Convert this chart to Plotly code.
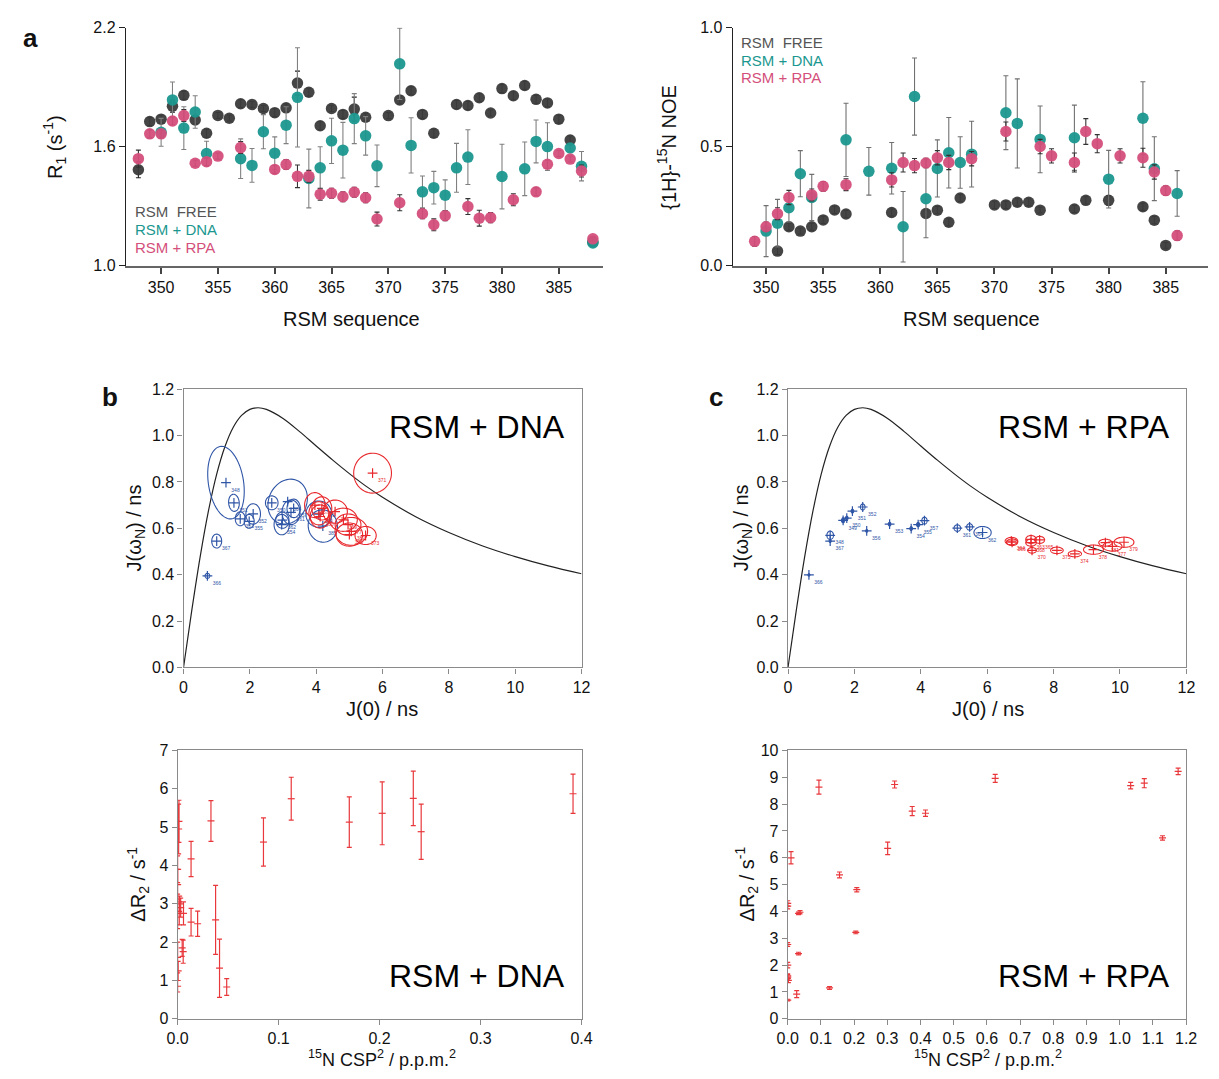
import numpy as np
import plotly.graph_objects as go

W, H = 1219, 1079

# ---------------- Panel a (left): R1 ----------------
free_res = [348,349,350,351,352,353,354,355,356,357,358,359,360,361,362,363,364,365,366,367,368,
            370,371,372,373,374,376,377,378,379,380,381,382,383,384,385,386,388]
free_r1 = [1.484,1.727,1.739,1.804,1.859,1.735,1.668,1.758,1.744,1.817,1.813,1.793,1.772,1.796,1.921,1.875,
           1.706,1.793,1.763,1.790,1.749,1.757,1.836,1.882,1.763,1.668,1.813,1.808,1.847,1.770,1.893,1.857,
           1.909,1.839,1.821,1.739,1.634,1.120]
free_r1_err = [0.04,0.02,0.02,0.03,0.02,0.02,0.02,0.015,0.015,0.02,0.015,0.015,0.02,0.02,0.06,0.02,0.02,0.015,
               0.02,0.06,0.02,0.015,0.02,0.02,0.02,0.02,0.02,0.02,0.02,0.015,0.02,0.02,0.02,0.02,0.02,0.02,0.02,0.01]

dna_res = [350,351,352,353,354,357,358,359,360,361,362,363,364,365,366,367,368,369,371,372,373,374,375,376,
           377,380,382,383,384,386,387,388]
dna_r1 = [1.673,1.836,1.694,1.775,1.566,1.540,1.506,1.676,1.568,1.709,1.849,1.440,1.494,1.630,1.583,1.742,
          1.655,1.504,2.018,1.607,1.373,1.394,1.356,1.494,1.548,1.450,1.489,1.627,1.601,1.594,1.502,1.115]
dna_r1_err = [0.07,0.09,0.108,0.082,0.062,0.10,0.085,0.086,0.082,0.093,0.25,0.148,0.106,0.114,0.14,0.126,
              0.097,0.105,0.18,0.139,0.08,0.082,0.077,0.123,0.138,0.163,0.135,0.108,0.12,0.02,0.074,0.01]

rpa_res = [348,349,350,351,352,353,354,355,357,360,361,362,363,364,365,366,367,368,369,371,373,374,375,377,
           378,379,381,383,384,385,386,387,388]
rpa_r1 = [1.540,1.665,1.665,1.730,1.757,1.517,1.525,1.553,1.596,1.486,1.511,1.451,1.451,1.361,1.366,1.348,
          1.371,1.343,1.236,1.318,1.263,1.207,1.253,1.299,1.240,1.243,1.333,1.373,1.512,1.566,1.538,1.478,1.136]
rpa_r1_err = [0.043,0.02,0.02,0.02,0.03,0.015,0.02,0.015,0.03,0.02,0.025,0.057,0.03,0.03,0.025,0.025,0.025,
              0.025,0.035,0.04,0.025,0.03,0.025,0.04,0.04,0.025,0.03,0.02,0.02,0.015,0.015,0.03,0.01]

# ---------------- Panel a (right): NOE ----------------
noe_free_res = [351,352,353,354,355,356,357,361,364,365,366,367,370,371,372,373,374,377,378,380,383,384,385]
noe_free = [0.062,0.164,0.146,0.164,0.193,0.235,0.218,0.224,0.220,0.234,0.183,0.285,0.256,0.256,0.267,0.267,
            0.234,0.239,0.275,0.275,0.248,0.192,0.086]
noe_free_err = [0.015,0.015,0.012,0.015,0.015,0.015,0.015,0.015,0.015,0.015,0.015,0.015,0.015,0.015,0.015,0.015,
                0.012,0.015,0.015,0.02,0.015,0.015,0.012]

noe_dna_res = [350,351,352,353,354,357,359,361,362,363,364,365,366,367,368,371,372,374,377,380,383,384,386]
noe_dna = [0.146,0.179,0.244,0.387,0.287,0.529,0.397,0.410,0.164,0.711,0.282,0.409,0.475,0.434,0.469,0.643,
           0.598,0.531,0.538,0.364,0.620,0.408,0.304]
noe_dna_err = [0.107,0.10,0.06,0.097,0.097,0.154,0.10,0.108,0.148,0.162,0.164,0.12,0.148,0.108,0.138,0.155,
               0.187,0.14,0.137,0.121,0.153,0.134,0.096]

noe_rpa_res = [349,350,351,352,354,355,357,361,362,363,364,365,366,368,371,374,375,377,378,379,381,383,384,385,386]
noe_rpa = [0.103,0.164,0.219,0.287,0.298,0.334,0.341,0.361,0.434,0.421,0.432,0.454,0.434,0.450,0.564,0.501,
           0.462,0.434,0.564,0.513,0.462,0.454,0.394,0.316,0.127]
noe_rpa_err = [0.02,0.02,0.025,0.03,0.025,0.02,0.025,0.03,0.04,0.03,0.02,0.03,0.03,0.03,0.04,0.03,0.03,0.04,
               0.054,0.038,0.03,0.04,0.03,0.02,0.02]

# ---------------- Panels b / c: spectral density ----------------
curve_j0 = [0, 0.25, 0.5, 0.75, 1.0, 1.25, 1.5, 1.75, 2.0, 2.25, 2.5, 3.0, 3.5, 4.0, 4.5, 5.0, 5.5, 6, 7, 8, 9, 10, 11, 12]
curve_jw = [0, 0.247, 0.476, 0.674, 0.834, 0.953, 1.036, 1.087, 1.113, 1.120, 1.113, 1.074, 1.017, 0.955, 0.894,
            0.836, 0.782, 0.734, 0.650, 0.582, 0.525, 0.478, 0.438, 0.404]

b_blue_j0 = [1.28, 1.52, 1.00, 0.72, 1.71, 1.98, 2.10, 2.66, 2.96, 2.98, 3.14, 3.24, 3.32, 4.08, 4.20]
b_blue_jw = [0.797, 0.710, 0.545, 0.395, 0.641, 0.630, 0.662, 0.710, 0.616, 0.635, 0.715, 0.669, 0.686, 0.661, 0.610]
b_blue_sx = [0.53, 0.16, 0.15, 0.07, 0.15, 0.15, 0.22, 0.19, 0.23, 0.20, 0.57, 0.27, 0.20, 0.39, 0.44]
b_blue_sy = [0.158, 0.037, 0.030, 0.011, 0.030, 0.030, 0.044, 0.030, 0.044, 0.035, 0.100, 0.053, 0.040, 0.057, 0.070]
b_blue_ang = [9, 5, 0, 0, 0, 0, 0, 0, 0, 0, -25, 0, 0, 0, 10]
b_blue_lab = ["348", "351", "367", "366", "353", "355", "352", "350", "354", "362", "364", "361", "357", "384", "385"]

b_red_j0 = [5.70, 3.96, 4.08, 4.17, 4.12, 4.57, 4.82, 4.96, 5.06, 5.00, 5.49]
b_red_jw = [0.838, 0.700, 0.665, 0.686, 0.651, 0.672, 0.637, 0.616, 0.587, 0.573, 0.569]
b_red_sx = [0.57, 0.31, 0.30, 0.30, 0.30, 0.37, 0.42, 0.39, 0.49, 0.40, 0.32]
b_red_sy = [0.086, 0.054, 0.050, 0.050, 0.050, 0.050, 0.050, 0.046, 0.060, 0.050, 0.039]
b_red_ang = [0, 0, 0, 0, 0, 0, 0, 0, 0, 0, 0]
b_red_lab = ["371", "367", "386", "372", "380", "383", "369", "377", "382", "376", "373"]

c_blue_j0 = [0.63, 1.27, 1.27, 1.66, 1.77, 1.94, 2.25, 2.37, 3.06, 3.71, 3.92, 4.11, 5.10, 5.47, 5.86]
c_blue_jw = [0.399, 0.570, 0.545, 0.634, 0.644, 0.674, 0.692, 0.589, 0.618, 0.599, 0.616, 0.633, 0.601, 0.606, 0.582]
c_blue_sx = [0.03, 0.10, 0.03, 0.05, 0.04, 0.04, 0.07, 0.03, 0.04, 0.04, 0.05, 0.08, 0.10, 0.09, 0.26]
c_blue_sy = [0.005, 0.018, 0.006, 0.010, 0.008, 0.008, 0.013, 0.006, 0.008, 0.008, 0.009, 0.015, 0.014, 0.014, 0.026]
c_blue_ang = [0] * 15
c_blue_lab = ["366", "348", "367", "349", "350", "351", "352", "356", "353", "354", "355", "357", "361", "364", "362"]

c_red_j0 = [6.73, 6.75, 7.32, 7.32, 7.58, 7.35, 8.10, 8.64, 9.20, 9.56, 9.77, 10.12]
c_red_jw = [0.545, 0.540, 0.552, 0.538, 0.550, 0.505, 0.505, 0.490, 0.508, 0.538, 0.522, 0.540]
c_red_sx = [0.19, 0.17, 0.16, 0.16, 0.15, 0.13, 0.19, 0.20, 0.30, 0.20, 0.29, 0.30]
c_red_sy = [0.016, 0.014, 0.017, 0.015, 0.015, 0.012, 0.014, 0.013, 0.020, 0.015, 0.020, 0.022]
c_red_ang = [0] * 12
c_red_lab = ["364", "366", "363", "368", "365", "370", "375", "374", "378", "381", "377", "379"]

# ---------------- Bottom panels: dR2 vs CSP^2 ----------------
dna_csp = [0.0, 0.0, 0.0005, 0.0, 0.0, 0.0, 0.0010, 0.0013, 0.0016, 0.0020, 0.0030, 0.0045, 0.0055, 0.0058,
           0.0133, 0.0133, 0.0198, 0.033, 0.0376, 0.0415, 0.0486, 0.085, 0.1125, 0.170, 0.2026, 0.2334, 0.2412, 0.3916]
dna_dr2 = [0.85, 1.6, 1.25, 2.8, 3.5, 3.9, 4.95, 5.15, 2.75, 3.0, 2.9, 1.85, 1.75, 2.75,
           4.17, 2.52, 2.48, 5.16, 2.58, 1.32, 0.83, 4.61, 5.74, 5.13, 5.36, 5.75, 4.88, 5.87]
dna_dr2_err = [0.15, 0.4, 0.25, 0.45, 0.4, 0.35, 0.65, 0.55, 0.3, 0.2, 0.25, 0.22, 0.3, 0.3,
               0.46, 0.36, 0.33, 0.53, 0.90, 0.76, 0.22, 0.63, 0.56, 0.66, 0.82, 0.71, 0.72, 0.51]

rpa_csp = [0.094, 0.0099, 0.0, 0.0, 0.0, 0.0, 0.0, 0.002, 0.0, 0.0, 0.027, 0.0325, 0.037, 0.0325, 0.126, 0.156,
           0.208, 0.205, 0.301, 0.322, 0.375, 0.415, 0.625, 1.033, 1.074, 1.129, 1.176]
rpa_dr2 = [8.63, 6.0, 4.3, 4.2, 2.77, 2.0, 1.55, 1.43, 1.6, 0.70, 0.92, 3.93, 3.97, 2.43, 1.15, 5.36,
           4.81, 3.22, 6.35, 8.73, 7.74, 7.66, 8.96, 8.69, 8.78, 6.74, 9.22]
rpa_dr2_err = [0.26, 0.23, 0.1, 0.1, 0.07, 0.1, 0.1, 0.08, 0.08, 0.03, 0.13, 0.05, 0.06, 0.05, 0.05, 0.11,
               0.08, 0.05, 0.23, 0.13, 0.17, 0.12, 0.15, 0.12, 0.17, 0.08, 0.12]

# ---------------- styling ----------------
FONT = "Liberation Sans, Arial, Helvetica, sans-serif"
C_FREE = "#3b3b3b"
C_DNA = "#1b978f"
C_RPA = "#d44f7b"
C_BLUE = "#2f55a6"
C_RED = "#e8282c"
C_ERR = "#e8383c"

# axis boxes in pixels (left, right, top, bottom)
BOX_A1 = (117, 603, 20, 262)
BOX_A2 = (735, 1219, 20, 262)
BOX_B = (175.7, 581, 387.3, 670)
BOX_C = (791.3, 1197, 387.3, 670)
BOX_D = (169.7, 581, 754.3, 1027)
BOX_E = (791, 1196.7, 754.3, 1027)


def dom(box):
    l, r, t, b = box
    return [l / W, r / W], [1 - b / H, 1 - t / H]


def P(px, py):
    return px / W, 1 - py / H


fig = go.Figure()


def dots(x, y, err, color, xa, ya, ecolor):
    fig.add_trace(go.Scatter(
        x=x, y=y, mode="markers", xaxis=xa, yaxis=ya,
        marker=dict(size=11.5, color=color, opacity=0.95, line=dict(width=0)),
        error_y=dict(type="data", array=err, color=ecolor, thickness=1.1, width=2.5),
        showlegend=False, hoverinfo="skip"))


dots(free_res, free_r1, free_r1_err, C_FREE, "x", "y", "#222222")
dots(dna_res, dna_r1, dna_r1_err, C_DNA, "x", "y", "#808080")
dots(rpa_res, rpa_r1, rpa_r1_err, C_RPA, "x", "y", "#333333")

dots(noe_free_res, noe_free, noe_free_err, C_FREE, "x2", "y2", "#222222")
dots(noe_dna_res, noe_dna, noe_dna_err, C_DNA, "x2", "y2", "#707070")
dots(noe_rpa_res, noe_rpa, noe_rpa_err, C_RPA, "x2", "y2", "#333333")

shapes = []
for xa, ya in (("x3", "y3"), ("x4", "y4")):
    fig.add_trace(go.Scatter(x=curve_j0, y=curve_jw, mode="lines",
                             line=dict(color="#222222", width=1.2, shape="spline"),
                             xaxis=xa, yaxis=ya, showlegend=False, hoverinfo="skip"))


def ell_set(j0, jw, sx, sy, ang, lab, color, xa, ya, box, xr, yr):
    kx = (box[1] - box[0]) / xr
    ky = (box[3] - box[2]) / yr
    fig.add_trace(go.Scatter(
        x=j0, y=jw, mode="markers+text", xaxis=xa, yaxis=ya,
        marker=dict(symbol="cross-thin", size=7, line=dict(width=1.2, color=color)),
        text=lab, textposition="bottom right", textfont=dict(size=5, color=color, family=FONT),
        showlegend=False, hoverinfo="skip"))
    t = np.linspace(0, 2 * np.pi, 60)
    for cx, cy, rx, ry, an in zip(j0, jw, sx, sy, ang):
        a, b = rx * kx, ry * ky
        th = np.radians(an)
        px = a * np.cos(t) * np.cos(th) - b * np.sin(t) * np.sin(th)
        py = a * np.cos(t) * np.sin(th) + b * np.sin(t) * np.cos(th)
        xs = cx + px / kx
        ys = cy + py / ky
        path = "M " + " L ".join(f"{x:.4f},{y:.4f}" for x, y in zip(xs, ys)) + " Z"
        small = ry <= 0.010
        shapes.append(dict(type="path", path=path, xref=xa, yref=ya,
                           line=dict(color=color, width=1.1), layer="above",
                           fillcolor=color if small else "rgba(0,0,0,0)"))


ell_set(b_blue_j0, b_blue_jw, b_blue_sx, b_blue_sy, b_blue_ang, b_blue_lab, C_BLUE, "x3", "y3", BOX_B, 12, 1.2)
ell_set(b_red_j0, b_red_jw, b_red_sx, b_red_sy, b_red_ang, b_red_lab, C_RED, "x3", "y3", BOX_B, 12, 1.2)
ell_set(c_blue_j0, c_blue_jw, c_blue_sx, c_blue_sy, c_blue_ang, c_blue_lab, C_BLUE, "x4", "y4", BOX_C, 12, 1.2)
ell_set(c_red_j0, c_red_jw, c_red_sx, c_red_sy, c_red_ang, c_red_lab, C_RED, "x4", "y4", BOX_C, 12, 1.2)


def bars(x, y, err, xa, ya):
    fig.add_trace(go.Scatter(
        x=x, y=y, mode="markers", xaxis=xa, yaxis=ya,
        marker=dict(symbol="line-ew", size=5, line=dict(width=1.2, color=C_ERR)),
        error_y=dict(type="data", array=err, color=C_ERR, thickness=1.2, width=2.5),
        showlegend=False, hoverinfo="skip"))


bars(dna_csp, dna_dr2, dna_dr2_err, "x5", "y5")
bars(rpa_csp, rpa_dr2, rpa_dr2_err, "x6", "y6")

tickfont = dict(family=FONT, size=16, color="#111111")

top_x = dict(showline=True, linecolor="#666666", linewidth=2, ticks="outside", ticklen=6, tickwidth=1.5,
             tickcolor="#444444", tickvals=[350, 355, 360, 365, 370, 375, 380, 385], showgrid=False,
             zeroline=False, tickfont=tickfont)
top_y = dict(showline=True, linecolor="#222222", linewidth=1.2, ticks="outside", ticklen=6, tickwidth=1.2,
             tickcolor="#222222", showgrid=False, zeroline=False, tickfont=tickfont)

box = dict(showline=True, mirror=True, linecolor="#8a8a8a", linewidth=1.2, ticks="outside", ticklen=5,
           tickwidth=1, tickcolor="#8a8a8a", showgrid=False, zeroline=False, tickfont=tickfont)

dx1, dy1 = dom(BOX_A1)
dx2, dy2 = dom(BOX_A2)
dx3, dy3 = dom(BOX_B)
dx4, dy4 = dom(BOX_C)
dx5, dy5 = dom(BOX_D)
dx6, dy6 = dom(BOX_E)

fig.update_layout(
    width=W, height=H, margin=dict(l=0, r=0, t=0, b=0),
    paper_bgcolor="white", plot_bgcolor="white", font=dict(family=FONT),
    xaxis=dict(top_x, domain=dx1, range=[346.9, 388.9], anchor="y"),
    yaxis=dict(top_y, domain=dy1, range=[1.0, 2.2], tickvals=[1.0, 1.6, 2.2], tickformat=".1f", anchor="x"),
    xaxis2=dict(top_x, domain=dx2, range=[347.08, 388.7], anchor="y2"),
    yaxis2=dict(top_y, domain=dy2, range=[0.0, 1.0], tickvals=[0.0, 0.5, 1.0], tickformat=".1f", anchor="x2"),
    xaxis3=dict(box, domain=dx3, range=[0, 12], dtick=2, anchor="y3"),
    yaxis3=dict(box, domain=dy3, range=[0, 1.2], dtick=0.2, tickformat=".1f", anchor="x3"),
    xaxis4=dict(box, domain=dx4, range=[0, 12], dtick=2, anchor="y4"),
    yaxis4=dict(box, domain=dy4, range=[0, 1.2], dtick=0.2, tickformat=".1f", anchor="x4"),
    xaxis5=dict(box, domain=dx5, range=[0, 0.4], dtick=0.1, tickformat=".1f", anchor="y5"),
    yaxis5=dict(box, domain=dy5, range=[0, 7], dtick=1, anchor="x5"),
    xaxis6=dict(box, domain=dx6, range=[0, 1.2], dtick=0.1, tickformat=".1f", anchor="y6"),
    yaxis6=dict(box, domain=dy6, range=[0, 10], dtick=1, anchor="x6"),
    shapes=shapes,
)

ann = []


def txt(px, py, s, size, color="#111111", angle=0, xanchor="center", bold=False):
    x, y = P(px, py)
    if bold:
        s = "<b>" + s + "</b>"
    ann.append(dict(x=x, y=y, xref="paper", yref="paper", text=s, showarrow=False, textangle=angle,
                    xanchor=xanchor, yanchor="middle", font=dict(family=FONT, size=size, color=color)))


# panel letters
txt(20, 30, "a", 26, bold=True)
txt(101, 395, "b", 26, bold=True)
txt(718, 395, "c", 26, bold=True)

# axis titles
txt(45, 141, "R<sub>1</sub> (s<sup>-1</sup>)", 20, angle=-90)
txt(668, 141, "{1H}-<sup>15</sup>N NOE", 20, angle=-90)
txt(347, 316, "RSM sequence", 20)
txt(978, 316, "RSM sequence", 20)
txt(127, 528, "J(ω<sub>N</sub>) / ns", 20, angle=-90)
txt(745, 528, "J(ω<sub>N</sub>) / ns", 20, angle=-90)
txt(378, 712, "J(0) / ns", 20)
txt(995, 712, "J(0) / ns", 20)
txt(130, 890, "ΔR<sub>2</sub> / s<sup>-1</sup>", 20, angle=-90)
txt(750, 890, "ΔR<sub>2</sub> / s<sup>-1</sup>", 20, angle=-90)
txt(378, 1067, "<sup>15</sup>N CSP<sup>2</sup> / p.p.m.<sup>2</sup>", 18)
txt(995, 1067, "<sup>15</sup>N CSP<sup>2</sup> / p.p.m.<sup>2</sup>", 18)

# legends
for (lx, ly) in ((124, 207), (741, 35)):
    txt(lx, ly, "RSM  FREE", 15, color="#555555", xanchor="left")
    txt(lx, ly + 18, "RSM + DNA", 15, color=C_DNA, xanchor="left")
    txt(lx, ly + 36, "RSM + RPA", 15, color=C_RPA, xanchor="left")

# big labels
txt(475, 426, "RSM + DNA", 32, color="#000000")
txt(1093, 426, "RSM + RPA", 32, color="#000000")
txt(475, 983, "RSM + DNA", 32, color="#000000")
txt(1093, 983, "RSM + RPA", 32, color="#000000")

fig.update_layout(annotations=ann)
fig.write_html("out.html")
